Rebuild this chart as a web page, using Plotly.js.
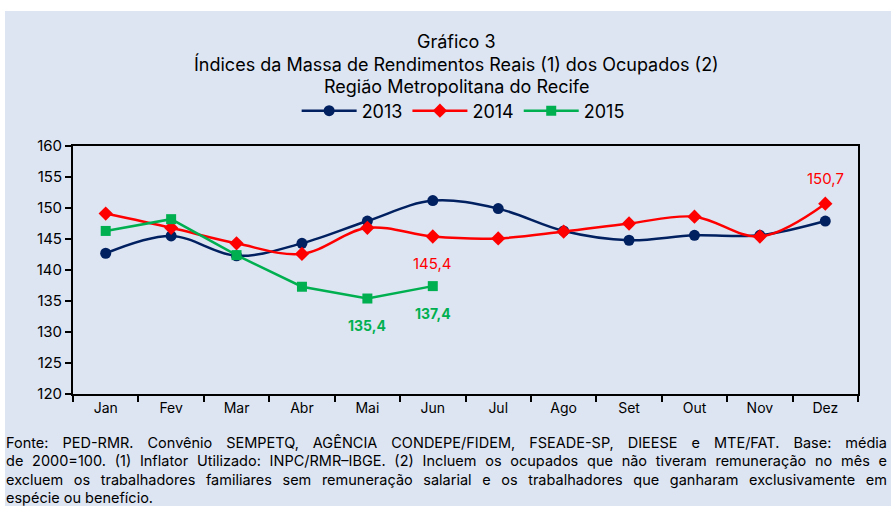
<!DOCTYPE html>
<html>
<head>
<meta charset="utf-8">
<script src="https://cdn.plot.ly/plotly-3.0.1.min.js"></script>
<style>
  html, body { margin: 0; padding: 0; background: #ffffff; }
  #chart { width: 891px; height: 506px; }
</style>
</head>
<body>
<div id="chart"></div>
<script>
const months = ['Jan','Fev','Mar','Abr','Mai','Jun','Jul','Ago','Set','Out','Nov','Dez'];
const v2013 = [142.7,145.5,142.3,144.3,147.9,151.2,149.9,146.3,144.8,145.6,145.6,147.9];
const v2014 = [149.1,146.8,144.3,142.6,146.8,145.4,145.1,146.2,147.5,148.6,145.4,150.7];
const v2015 = [146.3,148.2,142.4,137.3,135.4,137.4];
const labeled2014 = [5, 11];
const labeled2015 = [4, 5];
const titleLines = ['Gráfico 3','Índices da Massa de Rendimentos Reais (1) dos Ocupados (2)','Região Metropolitana do Recife'];
const footerLines = [
  'Fonte: PED-RMR. Convênio SEMPETQ, AGÊNCIA CONDEPE/FIDEM, FSEADE-SP, DIEESE e MTE/FAT. Base: média',
  'de 2000=100. (1) Inflator Utilizado: INPC/RMR–IBGE. (2) Incluem os ocupados que não tiveram remuneração no mês e',
  'excluem os trabalhadores familiares sem remuneração salarial e os trabalhadores que ganharam exclusivamente em',
  'espécie ou benefício.'
];

const W = 891, H = 506;
const M = {l: 73, r: 33, t: 146, b: 112};
const pw = W - M.l - M.r, ph = H - M.t - M.b;
const px2x = p => (p - M.l) / pw;
const py2y = p => (H - M.b - p) / ph;

const BG = '#DDE5F3';
const C13 = '#002060', C14 = '#FF0000', C15 = '#00B050';
const FONT = 'Inter, Liberation Sans, Arial, sans-serif';
const fmt = v => v.toFixed(1).replace('.', ',');

const traces = [
  {x: months, y: v2013, name: '2013', type: 'scatter', mode: 'lines+markers',
   line: {color: C13, width: 2.5, shape: 'spline', smoothing: 1},
   marker: {symbol: 'circle', size: 11, color: C13}},
  {x: months, y: v2014, name: '2014', type: 'scatter', mode: 'lines+markers',
   line: {color: C14, width: 2.5, shape: 'spline', smoothing: 1},
   marker: {symbol: 'diamond', size: 11, color: C14}},
  {x: months.slice(0, v2015.length), y: v2015, name: '2015', type: 'scatter', mode: 'lines+markers',
   line: {color: C15, width: 2.5},
   marker: {symbol: 'square', size: 10, color: C15}}
];

const annotations = [];
labeled2014.forEach(i => {
  annotations.push({x: months[i], y: v2014[i], xref: 'x', yref: 'y', text: fmt(v2014[i]),
    showarrow: false, yshift: i === 11 ? 25 : -27, font: {family: FONT, size: 15, color: C14}});
});
labeled2015.forEach(i => {
  annotations.push({x: months[i], y: v2015[i], xref: 'x', yref: 'y', text: '<b>' + fmt(v2015[i]) + '</b>',
    showarrow: false, yshift: -27, font: {family: FONT, size: 14, color: C15}});
});
const titleY = [42, 64, 86];
titleLines.forEach((t, i) => {
  annotations.push({x: px2x(456), xref: 'paper', y: py2y(titleY[i]), yref: 'paper', text: t,
    showarrow: false, xanchor: 'center', yanchor: 'middle', font: {family: FONT, size: 18, color: '#000'}});
});
const footY = [442, 461, 480, 497];
footerLines.forEach((t, i) => {
  annotations.push({x: px2x(5), xref: 'paper', y: py2y(footY[i]), yref: 'paper', text: t,
    showarrow: false, xanchor: 'left', yanchor: 'middle', align: 'left', borderpad: 0,
    font: {family: FONT, size: 14.5, color: '#000'}});
});

const layout = {
  width: W, height: H,
  margin: M,
  paper_bgcolor: '#ffffff',
  plot_bgcolor: BG,
  font: {family: FONT, color: '#000'},
  showlegend: true,
  legend: {orientation: 'h', x: 0.497, xanchor: 'center', y: py2y(111), yanchor: 'middle',
    font: {family: FONT, size: 18, color: '#000'}, bgcolor: 'rgba(0,0,0,0)', itemwidth: 55},
  xaxis: {type: 'category', range: [-0.5, 11.5], tickson: 'boundaries', ticks: 'outside', ticklen: 6,
    tickwidth: 2, tickcolor: '#000', showline: true, linewidth: 2, linecolor: '#000', mirror: true,
    showgrid: false, zeroline: false, tickfont: {family: FONT, size: 14, color: '#000'}, fixedrange: true},
  yaxis: {range: [120, 160], dtick: 5, ticks: 'outside', ticklen: 6, tickwidth: 2, tickcolor: '#000',
    showline: true, linewidth: 2, linecolor: '#000', mirror: true, showgrid: false, zeroline: false,
    tickfont: {family: FONT, size: 15, color: '#000'}, fixedrange: true},
  shapes: [{type: 'rect', xref: 'paper', yref: 'paper', layer: 'below',
    x0: px2x(5), x1: px2x(W + 5), y0: py2y(H + 5), y1: py2y(11),
    fillcolor: BG, line: {width: 0}}],
  annotations: annotations
};

Plotly.newPlot('chart', traces, layout, {staticPlot: true, displayModeBar: false}).then(gd => {
  // justify the first three footer lines (as in the reference)
  const right = 887;
  const first = annotations.length - footerLines.length;
  gd.querySelectorAll('.annotation').forEach(n => {
    const k = +n.getAttribute('data-index') - first;
    if (k < 0 || k >= footerLines.length - 1) return;
    const txt = n.querySelector('text.annotation-text');
    if (!txt) return;
    const bb = txt.getBBox();
    const ctm = txt.getCTM();
    const leftPx = bb.x + (ctm ? ctm.e : 0);
    const spaces = (footerLines[k].match(/ /g) || []).length;
    const extra = (right - (leftPx + bb.width)) / spaces;
    if (extra > 0) {
      const anchor = txt.getAttribute('text-anchor') || 'start';
      txt.style.wordSpacing = extra + 'px';
      const xNow = parseFloat(txt.getAttribute('x')) || 0;
      if (anchor === 'middle') txt.setAttribute('x', xNow + extra * spaces / 2);
      else if (anchor === 'end') txt.setAttribute('x', xNow + extra * spaces);
    }
  });
});
</script>
</body>
</html>
